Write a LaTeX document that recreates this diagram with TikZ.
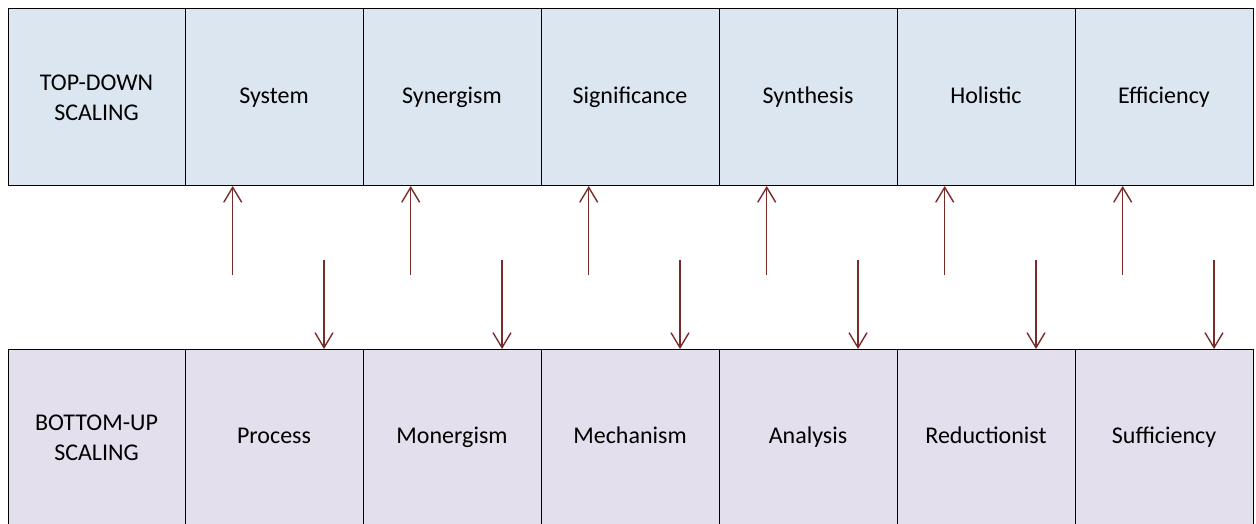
\documentclass[tikz,border=0pt]{standalone}
\usepackage{fontspec}
\setmainfont{Carlito}
\usetikzlibrary{positioning,arrows.meta,calc}
\definecolor{topfill}{HTML}{DCE6F1}
\definecolor{botfill}{HTML}{E4DFEC}
\definecolor{arrowred}{HTML}{772C2A}

\begin{document}
\begin{tikzpicture}[x=1pt, y=1pt,
  font=\fontsize{24}{30}\selectfont,
  cell/.style={draw=black, line width=1pt, minimum width=178pt, minimum height=177pt, inner sep=0pt, outer sep=0pt, align=center},
  topcell/.style={cell, fill=topfill},
  botcell/.style={cell, fill=botfill},
  word/.style={text height=17pt, text depth=5pt},
  uparr/.style={-{Straight Barb[length=15pt,width=18pt]}, line width=1.4pt, draw=arrowred},
  downarr/.style={uparr}
]
\clip (0,0) rectangle (1256,523);

% top row
\node[topcell, minimum width=177pt, anchor=north west] (top0) at (8,514) {TOP-DOWN\\SCALING};
\foreach \t [count=\i, remember=\i as \j (initially 0)] in {System,Synergism,Significance,Synthesis,Holistic,Efficiency}
  \node[topcell, word, right=0pt of top\j] (top\i) {\t};

% bottom row, runs off the page at the foot
\node[botcell, minimum width=177pt, anchor=north west] (bot0) at (8,174) {BOTTOM-UP\\SCALING};
\foreach \t [count=\i, remember=\i as \j (initially 0)] in {Process,Monergism,Mechanism,Analysis,Reductionist,Sufficiency}
  \node[botcell, word, right=0pt of bot\j] (bot\i) {\t};

% one arrow up and one arrow down per column
\foreach \i in {1,...,6} {
  \coordinate (up\i) at ($(top\i.south west)+(47.7,-89)$);
  \coordinate (dn\i) at ($(bot\i.north west)+(139,89)$);
  \draw[uparr] (up\i) -- (up\i |- top\i.south);
  \draw[downarr] (dn\i) -- (dn\i |- bot\i.north);
}
\end{tikzpicture}
\end{document}
